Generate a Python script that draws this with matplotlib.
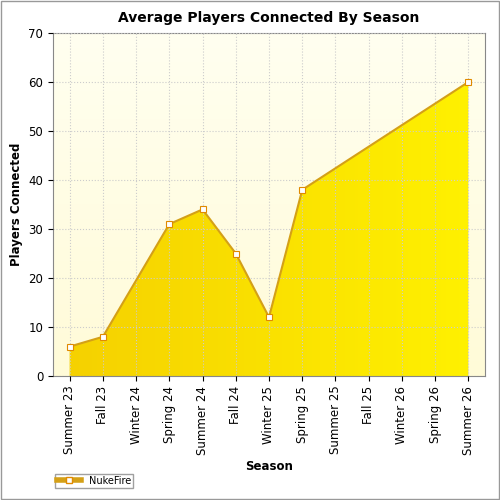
import matplotlib
matplotlib.use("Agg")
import matplotlib.pyplot as plt
import numpy as np
from matplotlib.lines import Line2D
from matplotlib.patches import Rectangle

seasons = ["Summer 23","Fall 23","Winter 24","Spring 24","Summer 24","Fall 24","Winter 25",
           "Spring 25","Summer 25","Fall 25","Winter 26","Spring 26","Summer 26"]
pt_idx = [0, 1, 3, 4, 5, 6, 7, 12]
pt_val = [6, 8, 31, 34, 25, 12, 38, 60]

fig = plt.figure(figsize=(5, 5), dpi=100)
fig.patch.set_facecolor("white")
fig.add_artist(Rectangle((0.002, 0.002), 0.996, 0.996, transform=fig.transFigure,
                         fill=False, edgecolor="#999999", lw=1))
ax = fig.add_axes([0.106, 0.248, 0.864, 0.686])
ax.set_xlim(-0.5, 12.5)
ax.set_ylim(0, 70)

# background gradient
bg = np.linspace(0, 1, 256).reshape(-1, 1)
from matplotlib.colors import LinearSegmentedColormap
cm_bg = LinearSegmentedColormap.from_list("bg", ["#fffff0", "#fffbd8"])
ax.imshow(bg, extent=[-0.5, 12.5, 0, 70], aspect="auto", cmap=cm_bg, origin="upper", zorder=0)

# fill gradient clipped to area
poly = ax.fill_between(pt_idx, pt_val, 0, facecolor="none", edgecolor="none", zorder=2)
cm_f = LinearSegmentedColormap.from_list("f", ["#f5d000", "#fff200"])
grad = np.linspace(0, 1, 256).reshape(1, -1)
im = ax.imshow(grad, extent=[-0.5, 12.5, 0, 70], aspect="auto", cmap=cm_f, zorder=2)
path = poly.get_paths()[0]
from matplotlib.patches import PathPatch
clip = PathPatch(path, transform=ax.transData, facecolor="none", edgecolor="none")
ax.add_patch(clip)
im.set_clip_path(clip)

ax.plot(pt_idx, pt_val, color="#d4a017", lw=1.5, zorder=3)
ax.plot(pt_idx, pt_val, ls="none", marker="s", ms=5, mfc="white", mec="#e08a00", mew=0.8, zorder=4)

ax.grid(True, color="#cccccc", ls=":", lw=0.8)
ax.set_axisbelow(False)
ax.set_xticks(range(len(seasons)))
ax.set_xticklabels(seasons, rotation=90, fontsize=8.5)
ax.set_yticks(range(0, 71, 10))
ax.tick_params(labelsize=8.5)
for s in ax.spines.values():
    s.set_color("#888888")
ax.set_xlabel("Season", fontsize=8.5, fontweight="bold")
ax.set_ylabel("Players Connected", fontsize=8.5, fontweight="bold")
ax.set_title("Average Players Connected By Season", fontsize=10, fontweight="bold", pad=8)

h = Line2D([], [], color="#d4a017", lw=4, marker="s", ms=5, mfc="white", mec="#e08a00")
leg = fig.legend([h], ["NukeFire"], loc="lower left", bbox_to_anchor=(0.1, 0.015),
                 fontsize=7, frameon=True, fancybox=False, edgecolor="#888888",
                 borderpad=0.2, handlelength=2.5)
fig.savefig("out.png", dpi=100)
